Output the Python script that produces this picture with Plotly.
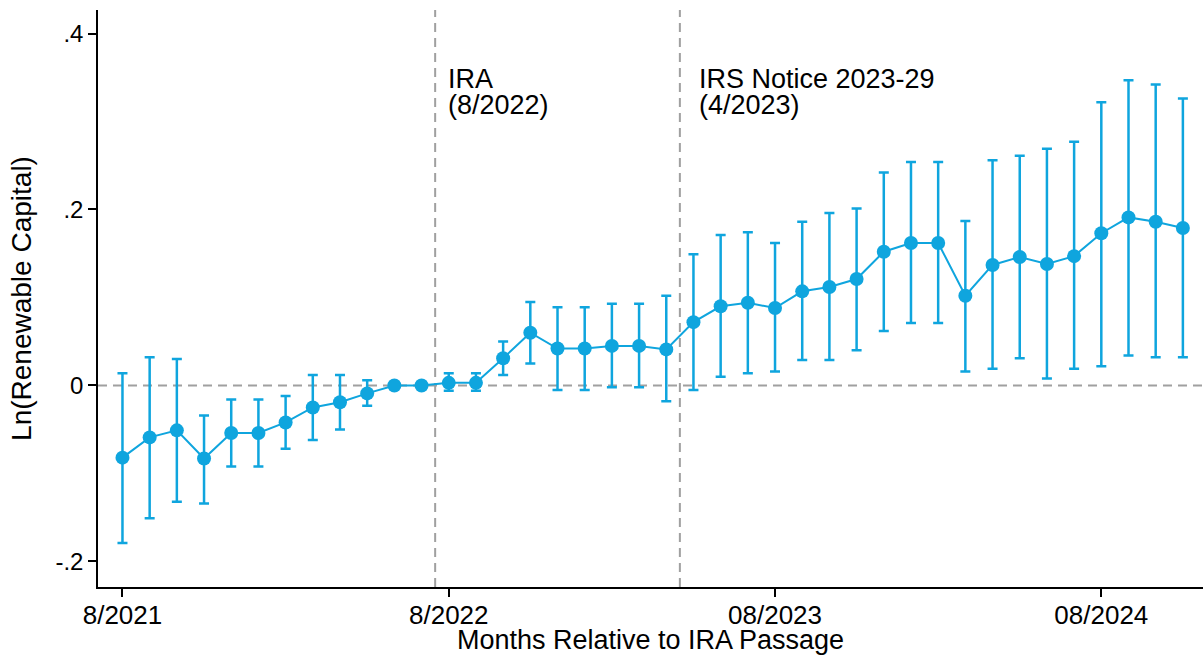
import numpy as np
import plotly.graph_objects as go

# Months since 8/2021 (0 = 8/2021)
months = list(range(40))

# Point estimates of Ln(Renewable Capital)
estimate = [
    -0.082, -0.059, -0.051, -0.083, -0.054, -0.054, -0.042, -0.025, -0.019, -0.009,
    0.000, 0.000, 0.003, 0.003, 0.031, 0.060, 0.042, 0.042, 0.045, 0.045,
    0.041, 0.072, 0.090, 0.094, 0.088, 0.107, 0.112, 0.121, 0.152, 0.162,
    0.162, 0.102, 0.137, 0.146, 0.138, 0.147, 0.173, 0.191, 0.186, 0.179,
]

# Upper / lower confidence bounds (None where no interval is drawn)
ci_high = [
    0.014, 0.032, 0.030, -0.034, -0.016, -0.016, -0.012, 0.012, 0.012, 0.006,
    None, None, 0.014, 0.014, 0.050, 0.095, 0.089, 0.089, 0.093, 0.093,
    0.102, 0.149, 0.171, 0.174, 0.162, 0.186, 0.196, 0.201, 0.242, 0.254,
    0.254, 0.187, 0.256, 0.261, 0.269, 0.277, 0.322, 0.347, 0.342, 0.326,
]
ci_low = [
    -0.179, -0.151, -0.132, -0.134, -0.092, -0.092, -0.072, -0.062, -0.050, -0.023,
    None, None, -0.006, -0.006, 0.012, 0.025, -0.005, -0.005, -0.002, -0.002,
    -0.018, -0.005, 0.010, 0.014, 0.016, 0.029, 0.029, 0.040, 0.062, 0.071,
    0.071, 0.016, 0.019, 0.031, 0.008, 0.019, 0.022, 0.034, 0.032, 0.032,
]

x_tickvals = [0, 12, 24, 36]
x_ticktext = ["8/2021", "8/2022", "08/2023", "08/2024"]
y_tickvals = [-0.2, 0, 0.2, 0.4]
y_ticktext = ["-.2", "0", ".2", ".4"]

# Event markers (month position, label lines)
ira_month = 11.5
irs_month = 20.5

BLUE = "#0FA5DE"
GREY = "#A0A0A0"
FONT = "Liberation Sans, Arial, sans-serif"

err_plus = [np.nan if h is None else h - e for h, e in zip(ci_high, estimate)]
err_minus = [np.nan if l is None else e - l for l, e in zip(ci_low, estimate)]

fig = go.Figure()

fig.add_trace(go.Scatter(
    x=months, y=estimate, mode="lines+markers",
    line=dict(color=BLUE, width=2),
    marker=dict(color=BLUE, size=14),
    error_y=dict(type="data", array=err_plus, arrayminus=err_minus,
                 color=BLUE, thickness=2.5, width=5, symmetric=False),
    showlegend=False,
))

# Zero reference line and event lines
fig.add_hline(y=0, line=dict(color=GREY, width=2, dash="9px,6px"), layer="below")
for m in (ira_month, irs_month):
    fig.add_vline(x=m, line=dict(color=GREY, width=2, dash="9px,6px"), layer="below")

ann_font = dict(family=FONT, size=27, color="black")
for m, shift, lines in ((ira_month, 11, ["IRA", "(8/2022)"]),
                        (irs_month, 17, ["IRS Notice 2023-29", "(4/2023)"])):
    for yv, txt in zip((0.348, 0.319), lines):
        fig.add_annotation(x=m, y=yv, text=txt, showarrow=False,
                           xanchor="left", yanchor="middle", xshift=shift,
                           font=ann_font)

fig.update_layout(
    width=1203, height=655,
    margin=dict(l=98, r=0, t=10, b=68),
    paper_bgcolor="white", plot_bgcolor="white",
    font=dict(family=FONT, color="black"),
    xaxis=dict(
        range=[-0.9, 39.74], tickvals=x_tickvals, ticktext=x_ticktext,
        ticks="outside", ticklen=8, tickwidth=1.5, tickcolor="black",
        showline=True, linecolor="black", linewidth=1.5,
        showgrid=False, zeroline=False,
        tickfont=dict(size=26), ticklabelstandoff=-4,
        title=dict(text="Months Relative to IRA Passage", font=dict(size=27), standoff=0),
    ),
    yaxis=dict(
        range=[-0.229, 0.4267], tickvals=y_tickvals, ticktext=y_ticktext,
        ticks="outside", ticklen=8, tickwidth=1.5, tickcolor="black",
        showline=True, linecolor="black", linewidth=1.5,
        showgrid=False, zeroline=False,
        tickfont=dict(size=24),
        title=dict(text="Ln(Renewable Capital)", font=dict(size=28), standoff=16),
    ),
)

fig.write_html("out.html")
